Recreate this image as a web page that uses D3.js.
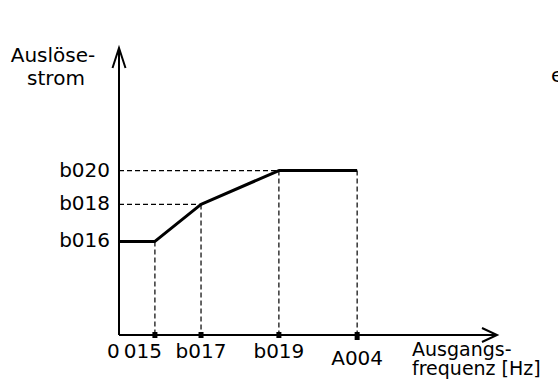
<!DOCTYPE html>
<html>
<head>
<meta charset="utf-8">
<script src="https://cdn.jsdelivr.net/npm/d3@7/dist/d3.min.js"></script>
<style>
  html, body { margin: 0; padding: 0; background: #fff; }
  svg { display: block; font-family: "DejaVu Sans", Verdana, sans-serif; }
</style>
</head>
<body>
<svg id="chart" width="558" height="383"></svg>
<script>
// Characteristic: trip current vs. output frequency (values in relative axis units 0..100)
const xTickLabels = ["015", "b017", "b019", "A004"];
const xTickValues = [9.5, 21.7, 42.3, 63.0];
const yTickLabels = ["b016", "b018", "b020"];
const yTickValues = [32.6, 45.5, 57.3];

// curve break points [x, y]
const curveX = [0, 9.5, 21.7, 42.3, 63.0];
const curveY = [32.6, 32.6, 45.5, 57.3, 57.3];

const svg = d3.select("#chart");

const x = d3.scaleLinear().domain([0, 100]).range([119, 497]);
const y = d3.scaleLinear().domain([0, 100]).range([335, 48]);

const FONT = 20;

const g = svg.append("g");
const dash = "5,3";

// horizontal guides to b018 / b020 (b016 sits on the curve itself)
[1, 2].forEach((i) => {
  const xi = curveX[i + 1];
  g.append("line")
    .attr("x1", x(0)).attr("x2", x(xi))
    .attr("y1", y(yTickValues[i])).attr("y2", y(yTickValues[i]))
    .attr("stroke", "#000").attr("stroke-width", 1.2)
    .attr("stroke-dasharray", dash);
});

// vertical guides from curve down to axis
xTickValues.forEach((v, i) => {
  g.append("line")
    .attr("x1", x(v)).attr("x2", x(v))
    .attr("y1", y(curveY[i + 1])).attr("y2", y(0))
    .attr("stroke", "#000").attr("stroke-width", 1.2)
    .attr("stroke-dasharray", dash);
});

// axes
g.append("line")
  .attr("x1", x(0)).attr("x2", x(0))
  .attr("y1", y(0)).attr("y2", y(100))
  .attr("stroke", "#000").attr("stroke-width", 2);
g.append("line")
  .attr("x1", x(0)).attr("x2", x(100))
  .attr("y1", y(0)).attr("y2", y(0))
  .attr("stroke", "#000").attr("stroke-width", 2);

// arrowheads (open chevrons)
g.append("path")
  .attr("d", `M${x(0) - 6.5},${y(100) + 20} L${x(0)},${y(100)} L${x(0) + 6.5},${y(100) + 20}`)
  .attr("fill", "none").attr("stroke", "#000").attr("stroke-width", 2);
g.append("path")
  .attr("d", `M${x(100) - 15},${y(0) - 7} L${x(100)},${y(0)} L${x(100) - 15},${y(0) + 7}`)
  .attr("fill", "none").attr("stroke", "#000").attr("stroke-width", 2);

// tick squares on the x axis
g.selectAll("rect.tick")
  .data(xTickValues)
  .join("rect")
  .attr("class", "tick")
  .attr("x", (d) => x(d) - 2.5)
  .attr("y", y(0) - 3)
  .attr("width", 5)
  .attr("height", (d, i) => (i === 3 ? 8 : 6))
  .attr("fill", "#000");

// characteristic curve
const line = d3.line().x((d) => x(d[0])).y((d) => y(d[1]));
g.append("path")
  .datum(curveX.map((v, i) => [v, curveY[i]]))
  .attr("d", line)
  .attr("fill", "none")
  .attr("stroke", "#000")
  .attr("stroke-width", 3)
  .attr("stroke-linejoin", "round");

// y labels
g.selectAll("text.ylab")
  .data(yTickLabels)
  .join("text")
  .attr("class", "ylab")
  .attr("x", 110)
  .attr("y", (d, i) => y(yTickValues[i]) + 6)
  .attr("text-anchor", "end")
  .attr("font-size", FONT)
  .text((d) => d);

// x labels
g.append("text")
  .attr("x", 107).attr("y", 358)
  .attr("font-size", FONT)
  .text("0");
g.selectAll("text.xlab")
  .data(xTickLabels)
  .join("text")
  .attr("class", "xlab")
  .attr("x", (d, i) => x(xTickValues[i]) + (i === 0 ? -12 : 0))
  .attr("y", (d, i) => (i === 3 ? 365 : 358))
  .attr("text-anchor", "middle")
  .attr("font-size", FONT)
  .text((d) => d);

// axis titles
g.append("text").attr("x", 53).attr("y", 62)
  .attr("text-anchor", "middle").attr("font-size", FONT).text("Auslöse-");
g.append("text").attr("x", 56).attr("y", 85)
  .attr("text-anchor", "middle").attr("font-size", FONT).text("strom");

g.append("text").attr("x", 412).attr("y", 356)
  .attr("font-size", 19).text("Ausgangs-");
g.append("text").attr("x", 412).attr("y", 375)
  .attr("font-size", 19).text("frequenz [Hz]");

// clipped fragment at right edge
g.append("text").attr("x", 551).attr("y", 82)
  .attr("font-size", FONT).text("e");
</script>
</body>
</html>
